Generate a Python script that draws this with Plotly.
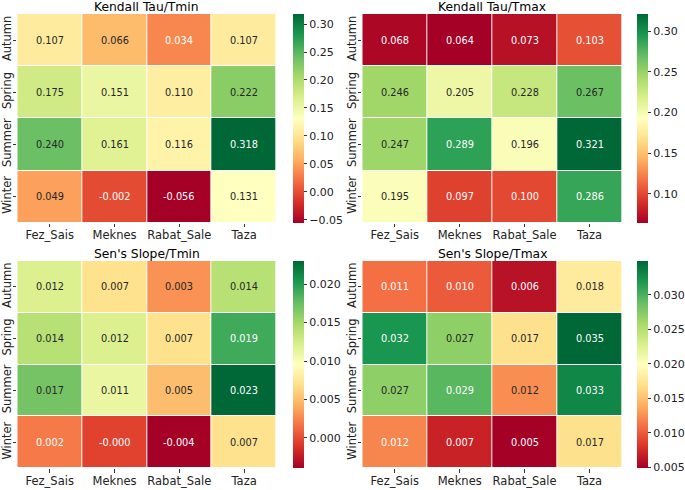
import plotly.graph_objects as go

stations = ["Fez_Sais", "Meknes", "Rabat_Sale", "Taza"]
seasons = ["Autumn", "Spring", "Summer", "Winter"]

kendall_tmin = [[0.107, 0.066, 0.034, 0.107],
                [0.175, 0.151, 0.110, 0.222],
                [0.240, 0.161, 0.116, 0.318],
                [0.049, -0.002, -0.056, 0.131]]
kendall_tmax = [[0.068, 0.064, 0.073, 0.103],
                [0.246, 0.205, 0.228, 0.267],
                [0.247, 0.289, 0.196, 0.321],
                [0.195, 0.097, 0.100, 0.286]]
sen_tmin = [[0.012, 0.007, 0.003, 0.014],
            [0.014, 0.012, 0.007, 0.019],
            [0.017, 0.011, 0.005, 0.023],
            [0.002, -0.0004, -0.0039, 0.007]]
sen_tmax = [[0.011, 0.010, 0.006, 0.018],
            [0.032, 0.027, 0.017, 0.0349],
            [0.027, 0.0294, 0.0124, 0.033],
            [0.012, 0.007, 0.0049, 0.017]]

titles = ["Kendall Tau/Tmin", "Kendall Tau/Tmax", "Sen's Slope/Tmin", "Sen's Slope/Tmax"]
cb_dtick = [0.05, 0.05, 0.005, 0.005]
cb_fmt = [".2f", ".2f", ".3f", ".3f"]

RDYLGN = [(165, 0, 38), (215, 48, 39), (244, 109, 67), (253, 174, 97), (254, 224, 139),
          (255, 255, 191), (217, 239, 139), (166, 217, 106), (102, 189, 99), (26, 152, 80), (0, 104, 55)]
colorscale = [[i / 10, "rgb(%d,%d,%d)" % c] for i, c in enumerate(RDYLGN)]


def cmap(t):
    t = min(max(t, 0.0), 1.0) * 10
    i = min(int(t), 9)
    f = t - i
    a, b = RDYLGN[i], RDYLGN[i + 1]
    return [(a[k] + (b[k] - a[k]) * f) / 255 for k in range(3)]


def lum(rgb):
    lin = [c / 12.92 if c <= 0.03928 else ((c + 0.055) / 1.055) ** 2.4 for c in rgb]
    return 0.2126 * lin[0] + 0.7152 * lin[1] + 0.0722 * lin[2]


W, H = 685, 490
# pixel boxes: (left, right, top, bottom), colorbar left
boxes = [(17.3, 276.5, 14.0, 222.7, 292.5),
         (362.3, 622.0, 14.0, 222.7, 637.3),
         (17.3, 276.5, 261.0, 468.3, 292.5),
         (362.3, 622.0, 261.0, 468.3, 637.3)]

FONT = "DejaVu Sans"
fig = go.Figure()
annotations = []
datasets = [kendall_tmin, kendall_tmax, sen_tmin, sen_tmax]

for k, (z, title, box) in enumerate(zip(datasets, titles, boxes)):
    l, r, t, b, cbx = box
    xa = "x" if k == 0 else "x%d" % (k + 1)
    ya = "y" if k == 0 else "y%d" % (k + 1)
    xl = "xaxis" if k == 0 else "xaxis%d" % (k + 1)
    yl = "yaxis" if k == 0 else "yaxis%d" % (k + 1)
    flat = [v for row in z for v in row]
    zmin, zmax = min(flat), max(flat)
    fig.add_trace(go.Heatmap(
        z=z, x=stations, y=seasons, xaxis=xa, yaxis=ya,
        colorscale=colorscale, zmin=zmin, zmax=zmax, xgap=1, ygap=1,
        hoverinfo="skip",
        colorbar=dict(
            x=cbx / W, xanchor="left", xpad=0, ypad=0,
            y=1 - t / H, yanchor="top", lenmode="pixels", len=b - t,
            thickness=10.5, outlinewidth=0, ticks="outside", ticklen=3.5,
            tickwidth=1, tickcolor="#333", tickmode="linear", dtick=cb_dtick[k], tick0=0,
            tickformat=cb_fmt[k], tickfont=dict(family=FONT, size=11, color="#222")),
    ))
    fig.layout[xl] = dict(domain=[l / W, r / W], anchor=ya, showgrid=False, zeroline=False,
                          ticks="outside", ticklen=3.5, tickcolor="#333", ticklabelstandoff=-2,
                          tickfont=dict(family=FONT, size=11.5, color="#222"), fixedrange=True)
    fig.layout[yl] = dict(domain=[1 - b / H, 1 - t / H], anchor=xa, showgrid=False, zeroline=False,
                          autorange="reversed", ticks="outside", ticklen=3.5, tickcolor="#333",
                          ticklabelstandoff=-3,
                          tickangle=-90, tickfont=dict(family=FONT, size=11.5, color="#222"),
                          fixedrange=True)
    for i, season in enumerate(seasons):
        for j, st in enumerate(stations):
            v = z[i][j]
            c = cmap((v - zmin) / (zmax - zmin))
            col = "#262626" if lum(c) > 0.39 else "white"
            annotations.append(dict(x=st, y=season, xref=xa, yref=ya, text=f"{v:.3f}",
                                    showarrow=False, font=dict(family=FONT, size=9.8, color=col)))
    annotations.append(dict(x=(l + r) / 2 / W, y=1 - (t - 7) / H, xref="paper", yref="paper",
                            text=title, showarrow=False, xanchor="center", yanchor="middle",
                            font=dict(family=FONT, size=12.3, color="black")))

fig.update_layout(width=W, height=H, margin=dict(l=0, r=0, t=0, b=0, autoexpand=False),
                  paper_bgcolor="white", plot_bgcolor="white",
                  annotations=annotations, showlegend=False)
fig.write_html("out.html", config={"displayModeBar": False},
               post_script="document.body.style.margin='0px';document.body.style.overflow='hidden';")
